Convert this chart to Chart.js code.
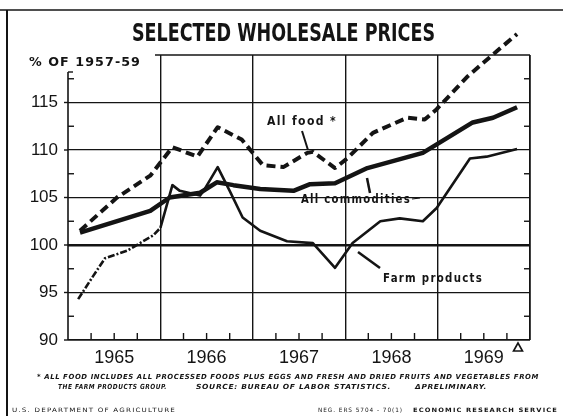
<!DOCTYPE html>
<html>
<head>
<meta charset="utf-8">
<script src="https://cdn.jsdelivr.net/npm/chart.js@4"></script>
<style>
  html, body { margin: 0; padding: 0; background: #fff; }
  canvas { display: block; }
</style>
</head>
<body>
<canvas id="myChart" width="563" height="416"></canvas>
<script>
// values (x = year as decimal, y = % of 1957-59)
const years = ['1965', '1966', '1967', '1968', '1969'];

const foodX = [1965.13, 1965.53, 1965.89, 1966.13, 1966.40, 1966.62, 1966.88, 1967.11, 1967.33, 1967.59, 1967.65, 1967.89, 1968.02, 1968.30, 1968.67, 1968.86, 1968.99, 1969.32, 1969.64, 1969.86];
const foodY = [101.5, 105.0, 107.3, 110.3, 109.3, 112.4, 111.1, 108.4, 108.2, 109.7, 109.8, 108.1, 109.1, 111.8, 113.4, 113.2, 114.3, 117.7, 120.4, 122.2];

const allX = [1965.13, 1965.89, 1966.10, 1966.43, 1966.61, 1966.79, 1967.08, 1967.44, 1967.62, 1967.89, 1968.24, 1968.84, 1969.38, 1969.60, 1969.86];
const allY = [101.3, 103.6, 105.0, 105.5, 106.6, 106.3, 105.9, 105.7, 106.4, 106.5, 108.1, 109.7, 112.9, 113.4, 114.5];

const farmX = [1965.11, 1965.27, 1965.40, 1965.64, 1965.92, 1966.00, 1966.13, 1966.21, 1966.43, 1966.48, 1966.62, 1966.75, 1966.89, 1967.08, 1967.37, 1967.65, 1967.89, 1968.08, 1968.38, 1968.59, 1968.84, 1968.99, 1969.35, 1969.53, 1969.86];
const farmY = [94.3, 96.7, 98.6, 99.4, 101.0, 101.8, 106.3, 105.7, 105.2, 105.9, 108.2, 105.7, 102.9, 101.5, 100.4, 100.2, 97.6, 100.2, 102.5, 102.8, 102.5, 103.9, 109.1, 109.3, 110.1];

const INK = '#141414';
Chart.defaults.font.family = 'Liberation Sans';
Chart.defaults.color = INK;

function pts(xs, ys) {
  return xs.map((x, i) => ({ x: x, y: ys[i] }));
}

// text squeezed/stretched to a given width
function fitText(ctx, text, x, y, w, font, spacing) {
  ctx.save();
  ctx.font = font;
  ctx.letterSpacing = spacing || '0px';
  const m = ctx.measureText(text).width;
  ctx.translate(x, y);
  ctx.scale(w / m, 1);
  ctx.textAlign = 'left';
  ctx.textBaseline = 'middle';
  ctx.fillStyle = INK;
  ctx.fillText(text, 0, 0);
  ctx.restore();
}

function line(ctx, x1, y1, x2, y2, w) {
  ctx.beginPath();
  ctx.lineWidth = w;
  ctx.moveTo(x1, y1);
  ctx.lineTo(x2, y2);
  ctx.stroke();
}

const decor = {
  id: 'decor',
  beforeDatasetsDraw(chart) {
    const ctx = chart.ctx;
    const xs = chart.scales.x, ys = chart.scales.y;
    const a = chart.chartArea;
    ctx.save();
    ctx.strokeStyle = INK;
    // box top (starts after the unit label) and left axis
    line(ctx, 155, a.top, a.right, a.top, 1.6);
    line(ctx, a.left, 72, a.left, a.bottom, 1.6);
    line(ctx, a.left, 72, a.left + 5, 72, 1.4);
    // quarter ticks along the bottom
    xs.ticks.forEach(t => {
      if (Math.abs(t.value - Math.round(t.value)) > 0.01) {
        const px = xs.getPixelForValue(t.value);
        line(ctx, px, a.bottom, px, a.bottom - 7, 1.4);
      }
    });
    // half-step ticks on both sides
    ys.ticks.forEach(t => {
      const py = ys.getPixelForValue(t.value);
      if (t.value % 5 !== 0) {
        line(ctx, a.left, py, a.left + 6, py, 1.4);
        line(ctx, a.right, py, a.right - 6, py, 1.4);
      } else if (t.value < 120) {
        line(ctx, a.left - 4, py, a.left, py, 1.4);
      }
    });
    ctx.restore();
  },
  afterDraw(chart) {
    const ctx = chart.ctx;
    ctx.save();
    ctx.strokeStyle = INK;
    // outer frame
    line(ctx, 0, 10, 563, 10, 1.6);
    line(ctx, 7, 10, 7, 416, 2);

    fitText(ctx, 'SELECTED WHOLESALE PRICES', 132, 34, 303, 'bold 25px "DejaVu Sans Condensed"');
    fitText(ctx, '% OF 1957-59', 29, 63, 112, 'bold 12px "DejaVu Sans"', '1px');

    // series labels with leader lines
    fitText(ctx, 'All food *', 267, 122, 70, 'bold 12px "DejaVu Sans"', '1.5px');
    line(ctx, 302, 131, 308, 150, 2);
    fitText(ctx, 'All commodities', 301, 200, 110, 'bold 12px "DejaVu Sans"', '1.5px');
    line(ctx, 412, 199, 420, 198, 1.2);
    line(ctx, 367, 178, 370, 193, 2.5);
    fitText(ctx, 'Farm products', 383, 279, 100, 'bold 12px "DejaVu Sans"', '1.5px');
    line(ctx, 358, 252, 380, 268, 2.5);

    // preliminary marker
    ctx.beginPath();
    ctx.lineWidth = 1.6;
    ctx.moveTo(518, 343);
    ctx.lineTo(522.5, 351);
    ctx.lineTo(513.5, 351);
    ctx.closePath();
    ctx.stroke();

    // footnotes
    const fn = 'italic bold 7px "DejaVu Sans"';
    fitText(ctx, '* ALL FOOD INCLUDES ALL PROCESSED FOODS PLUS EGGS AND FRESH AND DRIED FRUITS AND VEGETABLES FROM', 37, 377, 502, fn, '0.6px');
    fitText(ctx, 'THE FARM PRODUCTS GROUP.', 58, 387, 109, fn, '0.6px');
    fitText(ctx, 'SOURCE: BUREAU OF LABOR STATISTICS.', 196, 387, 195, fn, '0.6px');
    fitText(ctx, '\u0394PRELIMINARY.', 415, 387, 72, fn, '0.6px');
    const bt = '6px "DejaVu Sans"';
    fitText(ctx, 'U.S. DEPARTMENT OF AGRICULTURE', 12, 410, 164, bt, '1px');
    fitText(ctx, 'NEG. ERS 5704 - 70(1)', 318, 410, 85, bt, '1px');
    fitText(ctx, 'ECONOMIC RESEARCH SERVICE', 413, 410, 145, 'bold 6px "DejaVu Sans"', '1px');
    ctx.restore();
  }
};

new Chart(document.getElementById('myChart'), {
  type: 'line',
  data: {
    datasets: [
      {
        label: 'All food *',
        data: pts(foodX, foodY),
        borderColor: INK,
        borderWidth: 4,
        borderDash: [9, 5],
        clip: false
      },
      {
        label: 'All commodities',
        data: pts(allX, allY),
        borderColor: INK,
        borderWidth: 4.5,
        clip: false
      },
      {
        label: 'Farm products',
        data: pts(farmX, farmY),
        borderColor: INK,
        borderWidth: 2.6,
        clip: false,
        segment: {
          borderDash: ctx => ctx.p1.parsed.x <= 1966.0 ? [7, 2, 2, 2] : undefined
        }
      }
    ]
  },
  options: {
    responsive: false,
    animation: false,
    devicePixelRatio: 1,
    layout: { padding: { left: 0, top: 55, right: 33, bottom: 0 } },
    elements: {
      point: { radius: 0, hoverRadius: 0 },
      line: { tension: 0, borderJoinStyle: 'round', borderCapStyle: 'butt' }
    },
    plugins: {
      legend: { display: false },
      title: { display: false },
      tooltip: { enabled: false }
    },
    scales: {
      x: {
        type: 'linear',
        min: 1965,
        max: 1970,
        afterFit: s => { s.height = 76; },
        border: { display: false },
        grid: {
          drawTicks: false,
          color: c => {
            const v = c.tick.value;
            if (Math.abs(v - Math.round(v)) > 0.01) return 'rgba(0,0,0,0)';
            if (v === 1965) return 'rgba(0,0,0,0)';
            return INK;
          },
          lineWidth: c => (c.tick.value === 1970 ? 1.8 : 1.4)
        },
        ticks: {
          stepSize: 0.25,
          autoSkip: false,
          maxRotation: 0,
          padding: 7,
          font: { size: 18 },
          callback: v => {
            const i = Math.round((v - 1965.5) * 100) / 100;
            return Number.isInteger(i) && i >= 0 && i < years.length ? years[i] : '';
          }
        }
      },
      y: {
        min: 90,
        max: 120,
        afterFit: s => { s.width = 68; },
        border: { display: false },
        grid: {
          drawTicks: false,
          color: c => (c.tick.value % 5 === 0 && c.tick.value < 120 ? INK : 'rgba(0,0,0,0)'),
          lineWidth: c => (c.tick.value === 100 ? 2.4 : (c.tick.value === 90 ? 1.8 : 1.3))
        },
        ticks: {
          stepSize: 2.5,
          autoSkip: false,
          padding: 10,
          font: { size: 17 },
          callback: v => (v % 5 === 0 && v < 120 ? String(v) : '')
        }
      }
    }
  },
  plugins: [decor]
});
</script>
</body>
</html>
